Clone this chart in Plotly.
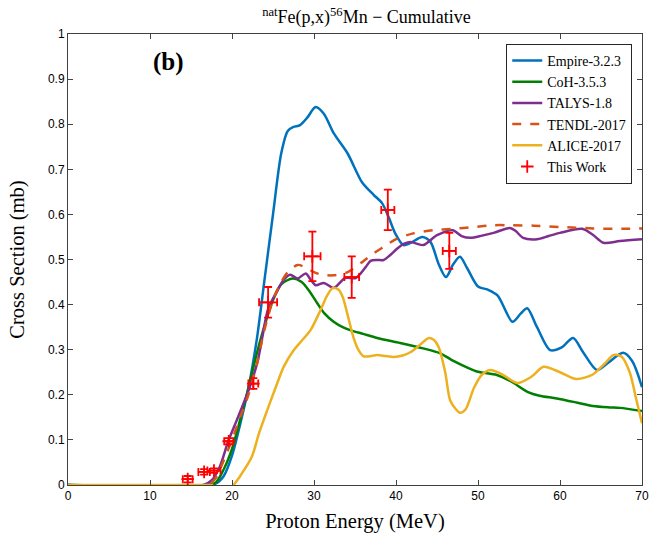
import plotly.graph_objects as go

# ---------------- data ----------------
empire_E = [0, 17, 18, 19, 20, 21, 22, 23, 24, 25, 26, 26.8, 27.5, 28.3, 29.2, 30.2, 31.2, 32.4, 34.1, 35.9,
            37.3, 38.3, 39.1, 39.9, 40.9, 41.8, 43.2, 44.2, 45.2, 46.1, 47.0, 47.8, 48.7, 50.0, 51.2, 52.4,
            54.2, 55.2, 56.0, 57.2, 58.8, 60.2, 61.6, 62.8, 64.5, 65.8, 67.7, 68.8, 70]
empire_S = [0, 0, 0.003, 0.02, 0.065, 0.135, 0.215, 0.32, 0.46, 0.6, 0.735, 0.785, 0.794, 0.798, 0.815, 0.838,
            0.823, 0.78, 0.735, 0.67, 0.643, 0.625, 0.594, 0.558, 0.532, 0.537, 0.55, 0.539, 0.49, 0.461, 0.49,
            0.506, 0.48, 0.44, 0.433, 0.42, 0.362, 0.38, 0.392, 0.35, 0.299, 0.305, 0.326, 0.295, 0.255, 0.27,
            0.293, 0.275, 0.217]

coh_E = [0, 17, 18, 19, 20, 21, 22, 23, 24, 25, 26, 27.4, 28.5, 29.5, 30.4, 31.3, 32.4, 33.5, 34.5, 36, 37.7,
         40.5, 43.3, 45.4, 47, 48.5, 50, 52.3, 54, 56.1, 57.5, 59.6, 62, 64, 66, 67.3, 70]
coh_S = [0, 0, 0.005, 0.035, 0.08, 0.145, 0.215, 0.29, 0.355, 0.41, 0.445, 0.458, 0.45, 0.428, 0.403, 0.38,
         0.362, 0.35, 0.343, 0.335, 0.326, 0.315, 0.303, 0.292, 0.275, 0.262, 0.251, 0.244, 0.23, 0.206,
         0.198, 0.192, 0.183, 0.175, 0.172, 0.171, 0.164]

talys_E = [0, 16.5, 17.5, 18.5, 19.5, 20.5, 21.5, 22.5, 23.2, 23.7, 24.4, 25.5, 26.3, 27.1, 28.0, 29.0, 29.6,
           30.2, 31.2, 32.4, 33.8, 35.1, 36.3, 36.9, 37.7, 38.5, 39.3, 40.2, 41.0, 41.8, 43.3, 45.0, 46.9,
           48.0, 49.1, 50.5, 51.9, 53.9, 54.6, 55.5, 57.2, 58.6, 60, 62.7, 64, 65.3, 67.3, 70]
talys_S = [0, 0, 0.01, 0.04, 0.095, 0.14, 0.185, 0.235, 0.28, 0.328, 0.39, 0.43, 0.455, 0.466, 0.458, 0.469,
           0.455, 0.443, 0.448, 0.437, 0.459, 0.459, 0.483, 0.497, 0.499, 0.499, 0.51, 0.525, 0.535, 0.539,
           0.532, 0.554, 0.565, 0.552, 0.548, 0.553, 0.559, 0.57, 0.563, 0.548, 0.545, 0.552, 0.559, 0.568,
           0.555, 0.537, 0.541, 0.545]

tendl_E = [0, 17, 18, 19, 20, 21, 22, 23, 23.9, 25, 26, 26.8, 28, 29, 30, 31, 32.4, 34.1, 35.7, 37.3, 38.5,
           40, 42.1, 44.5, 47, 49.5, 51.9, 54, 56.8, 60, 64, 67, 70]
tendl_S = [0, 0, 0.015, 0.055, 0.1, 0.15, 0.2, 0.265, 0.34, 0.41, 0.45, 0.472, 0.488, 0.482, 0.472, 0.466,
           0.465, 0.472, 0.492, 0.514, 0.528, 0.545, 0.558, 0.565, 0.568, 0.572, 0.576, 0.576, 0.575, 0.572,
           0.569, 0.568, 0.569]

alice_E = [0, 17.7, None, 20.2, 21, 22.4, 23.3, 24.3, 25.3, 26.3, 27.5, 28.6, 29.6, 30.8, 31.6, 32.3, 33.0,
           33.5, 34.2, 34.8, 35.4, 36.0, 37.0, 37.7, 38.7, 39.7, 40.8, 41.8, 43.0, 44.0, 44.6, 45.2, 46.0,
           46.6, 47.3, 47.8, 48.5, 49.5, 50.5, 51.5, 53, 54.8, 56.5, 58, 60, 62, 64, 65.5, 66.5, 67.5, 68.5,
           69.3, 70]
alice_S = [0, 0, None, 0, 0.02, 0.062, 0.115, 0.166, 0.215, 0.262, 0.298, 0.322, 0.344, 0.388, 0.42, 0.437,
           0.433, 0.417, 0.37, 0.328, 0.3, 0.286, 0.286, 0.288, 0.286, 0.284, 0.287, 0.295, 0.312, 0.326,
           0.322, 0.306, 0.25, 0.188, 0.168, 0.16, 0.168, 0.215, 0.245, 0.255, 0.245, 0.226, 0.24, 0.262,
           0.25, 0.235, 0.245, 0.27, 0.288, 0.285, 0.25, 0.19, 0.137]

work_E = [14.6, 16.6, 17.8, 19.6, 22.6, 24.4, 29.8, 34.6, 39.0, 46.5]
work_S = [0.013, 0.029, 0.032, 0.097, 0.225, 0.405, 0.507, 0.461, 0.610, 0.519]
work_dS = [0.007, 0.006, 0.005, 0.007, 0.012, 0.034, 0.055, 0.046, 0.045, 0.040]
work_dE = [0.6, 0.7, 0.8, 0.55, 0.6, 1.1, 1.0, 0.9, 0.8, 0.8]

# ---------------- figure ----------------
serif = "Liberation Serif, Times New Roman, serif"
sans = "Liberation Sans, Arial, sans-serif"

fig = go.Figure()

def add_line(x, y, name, color, dash="solid"):
    fig.add_trace(go.Scatter(
        x=x, y=y, name=name, mode="lines",
        line=dict(color=color, width=2.5, dash=dash, shape="spline", smoothing=0.8),
        connectgaps=False,
    ))

add_line(empire_E, empire_S, "Empire-3.2.3", "#0072BD")
add_line(coh_E, coh_S, "CoH-3.5.3", "#007F00")
add_line(talys_E, talys_S, "TALYS-1.8", "#7E2F8E")
add_line(tendl_E, tendl_S, "TENDL-2017", "#D95319", dash="dash")
add_line(alice_E, alice_S, "ALICE-2017", "#EDB120")

fig.add_trace(go.Scatter(
    x=work_E, y=work_S, name="This Work", mode="markers",
    marker=dict(size=9, color="#FF0000", symbol="cross-thin", line=dict(color="#FF0000", width=1.8)),
    error_y=dict(type="data", array=work_dS, color="#FF0000", thickness=1.8, width=4),
    error_x=dict(type="data", array=work_dE, color="#FF0000", thickness=1.8, width=4),
))

fig.add_annotation(x=12.3, y=0.938, xref="x", yref="y", text="<b>(b)</b>", showarrow=False,
                   font=dict(family=serif, size=25, color="black"))

fig.update_layout(
    width=656, height=536,
    margin=dict(l=68, r=14, t=34, b=51),
    paper_bgcolor="white", plot_bgcolor="white",
    title=dict(text="<sup>nat</sup>Fe(p,x)<sup>56</sup>Mn − Cumulative", x=0.52, xref="paper",
               xanchor="center", y=0.968, yanchor="middle",
               font=dict(family=serif, size=18, color="black")),
    showlegend=True,
    legend=dict(x=0.983, y=0.978, xanchor="right", yanchor="top", bgcolor="white",
                bordercolor="#262626", borderwidth=1, font=dict(family=serif, size=14, color="black"),
                tracegroupgap=0),
    xaxis=dict(range=[0, 70], tickvals=[0, 10, 20, 30, 40, 50, 60, 70], ticks="inside", ticklen=5,
               showline=True, linecolor="#404040", linewidth=1, mirror="ticks", showgrid=False,
               zeroline=False, automargin=False, tickfont=dict(family=sans, size=12, color="black"),
               title=dict(text="Proton Energy (MeV)", font=dict(family=serif, size=20.5, color="black"),
                          standoff=11)),
    yaxis=dict(range=[0, 1], tickvals=[0, 0.1, 0.2, 0.3, 0.4, 0.5, 0.6, 0.7, 0.8, 0.9, 1],
               ticktext=["0", "0.1", "0.2", "0.3", "0.4", "0.5", "0.6", "0.7", "0.8", "0.9", "1"],
               ticks="inside", ticklen=5, showline=True, linecolor="#404040", linewidth=1, mirror="ticks",
               showgrid=False, zeroline=False, automargin=False,
               tickfont=dict(family=sans, size=12, color="black"),
               title=dict(text="Cross Section (mb)", font=dict(family=serif, size=20.5, color="black"),
                          standoff=17)),
)

fig.write_html("out.html")
